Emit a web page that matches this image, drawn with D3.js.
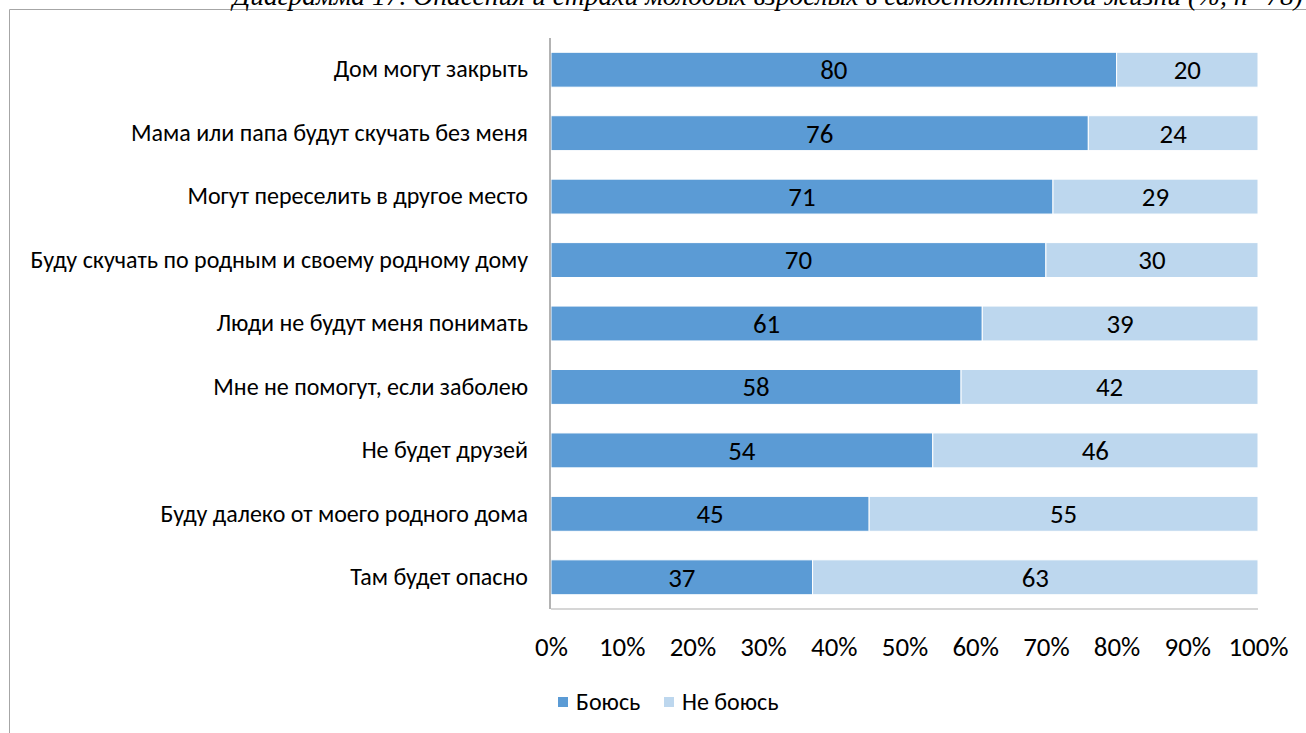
<!DOCTYPE html>
<html><head><meta charset="utf-8">
<script src="https://cdn.jsdelivr.net/npm/d3@7"></script>
<style>html,body{margin:0;padding:0;background:#fff;}svg{display:block;}</style>
</head><body>
<svg id="c" width="1306" height="733"></svg>
<script>
const title = "Диаграмма 17. Опасения и страхи молодых взрослых в самостоятельной жизни (%, n=78)";
const categories = [
  "Дом могут закрыть",
  "Мама или папа будут скучать без меня",
  "Могут переселить в другое место",
  "Буду скучать по родным и своему родному дому",
  "Люди не будут меня понимать",
  "Мне не помогут, если заболею",
  "Не будет друзей",
  "Буду далеко от моего родного дома",
  "Там будет опасно"
];
const fearValues = [80, 76, 71, 70, 61, 58, 54, 45, 37];
const noFearValues = [20, 24, 29, 30, 39, 42, 46, 55, 63];
const seriesNames = ["Боюсь", "Не боюсь"];
const seriesColors = ["#5B9BD5", "#BDD7EE"];
const tickValues = [0, 10, 20, 30, 40, 50, 60, 70, 80, 90, 100];

const FONT = "Carlito, 'Open Sans', 'Noto Sans', sans-serif";
const svg = d3.select("#c");

// frame
svg.append("line").attr("x1", 9.5).attr("x2", 1306).attr("y1", 9.5).attr("y2", 9.5)
  .attr("stroke", "#a6a6a6").attr("stroke-width", 1);
svg.append("line").attr("x1", 9.5).attr("x2", 9.5).attr("y1", 9.5).attr("y2", 733)
  .attr("stroke", "#a6a6a6").attr("stroke-width", 1);

// title (cut off at top, as in the source)
const t = svg.append("text").text(title)
  .attr("font-family", "'Liberation Serif', 'DejaVu Serif', serif")
  .attr("font-style", "italic").attr("font-size", 22)
  .attr("text-anchor", "end").attr("x", 1303).attr("y", 5).attr("fill", "#000");
const tw = t.node().getComputedTextLength();
t.attr("font-size", 22 * 1071 / tw);

// measure label font size
const probe = svg.append("text").attr("font-family", FONT).attr("font-size", 20)
  .text(categories[3]);
const pw = probe.node().getComputedTextLength();
probe.remove();
const fs = Math.min(24, 20 * 500 / pw);
const fsNum = fs * 1.12;

const x = d3.scaleLinear().domain([0, 100]).range([551, 1258]);
const y = d3.scaleBand().domain(categories).range([38, 609]).paddingInner(0.45).paddingOuter(0.225);

const rows = categories.map((c, i) => ({ c, a: fearValues[i], b: noFearValues[i] }));

const g = svg.append("g");
g.selectAll("rect.a").data(rows).join("rect").attr("class", "a")
  .attr("x", x(0)).attr("y", d => y(d.c)).attr("height", y.bandwidth())
  .attr("width", d => x(d.a) - x(0)).attr("fill", seriesColors[0])
  .attr("stroke", "#fff").attr("stroke-width", 1);
g.selectAll("rect.b").data(rows).join("rect").attr("class", "b")
  .attr("x", d => x(d.a)).attr("y", d => y(d.c)).attr("height", y.bandwidth())
  .attr("width", d => x(d.a + d.b) - x(d.a)).attr("fill", seriesColors[1])
  .attr("stroke", "#fff").attr("stroke-width", 1);

// value labels
g.selectAll("text.va").data(rows).join("text").attr("class", "va")
  .attr("x", d => (x(0) + x(d.a)) / 2).attr("y", d => y(d.c) + y.bandwidth() / 2)
  .attr("dy", "0.35em").attr("text-anchor", "middle")
  .attr("font-family", FONT).attr("font-size", fsNum).attr("fill", "#000").text(d => d.a);
g.selectAll("text.vb").data(rows).join("text").attr("class", "vb")
  .attr("x", d => (x(d.a) + x(d.a + d.b)) / 2).attr("y", d => y(d.c) + y.bandwidth() / 2)
  .attr("dy", "0.35em").attr("text-anchor", "middle")
  .attr("font-family", FONT).attr("font-size", fsNum).attr("fill", "#000").text(d => d.b);

// y axis
const yAxis = svg.append("g").attr("transform", `translate(${x(0) - 1},0)`)
  .call(d3.axisLeft(y).tickSize(0).tickPadding(22));
yAxis.select(".domain").attr("stroke", "#b3b3b3").attr("stroke-width", 2)
  .attr("d", "M0,38V609");
yAxis.selectAll("text").attr("font-family", FONT).attr("font-size", fs).attr("fill", "#000");

// x axis (labels only)
const xAxis = svg.append("g").attr("transform", "translate(0,609)")
  .call(d3.axisBottom(x).tickValues(tickValues).tickFormat(d => d + "%").tickSize(0).tickPadding(28));
xAxis.select(".domain").attr("stroke", "#c8c8c8").attr("stroke-width", 1.5)
  .attr("d", `M${x(0)},0H${x(100)}`);
xAxis.selectAll("text").attr("font-family", FONT).attr("font-size", fsNum).attr("fill", "#000");

// legend
const lg = svg.append("g");
const legendX = [558, 664];
seriesNames.forEach((n, i) => {
  lg.append("rect").attr("x", legendX[i]).attr("y", 697).attr("width", 10).attr("height", 10)
    .attr("fill", seriesColors[i]);
  lg.append("text").attr("x", legendX[i] + 18).attr("y", 702).attr("dy", "0.35em")
    .attr("font-family", FONT).attr("font-size", fs).attr("fill", "#000").text(n);
});
</script>
</body></html>
